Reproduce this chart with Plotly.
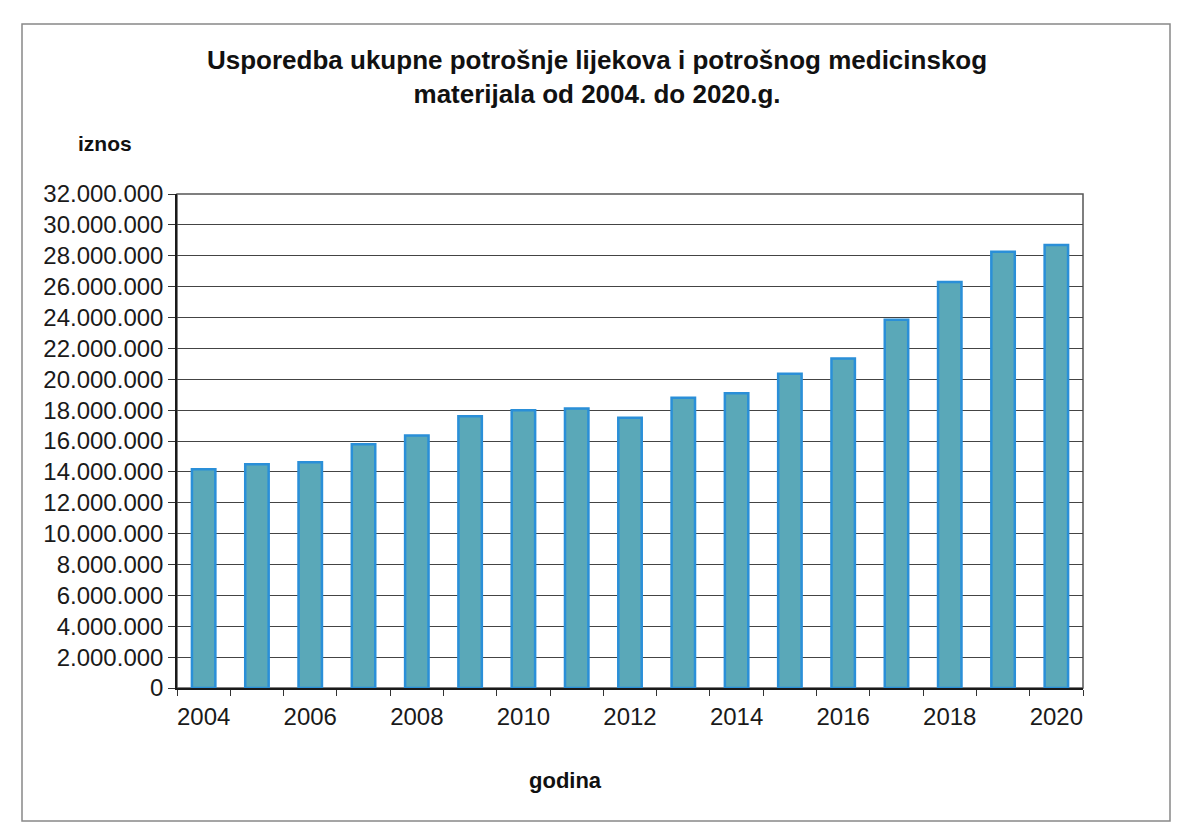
import plotly.graph_objects as go

years = list(range(2004, 2021))
values = [14170000, 14500000, 14620000, 15790000, 16360000, 17600000, 17990000,
          18100000, 17500000, 18800000, 19100000, 20360000, 21340000, 23850000,
          26300000, 28260000, 28700000]
xtick_years = [2004, 2006, 2008, 2010, 2012, 2014, 2016, 2018, 2020]

title_text = "Usporedba ukupne potrošnje lijekova i potrošnog medicinskog<br>materijala od 2004. do 2020.g."
y_title = "iznos"
x_title = "godina"

OFF = 8  # browser body margin
W, H = 1180 - 2 * OFF, 831 - 2 * OFF
# plot area in page pixels
L, R, T, B = 177 - OFF, 1083 - OFF, 194 - OFF, 688 - OFF
pw, ph = R - L, B - T

def px(x):
    return (x - OFF - L) / pw

def py(y):
    return (B - (y - OFF)) / ph

fig = go.Figure()
fig.add_trace(go.Bar(
    x=years, y=values,
    marker=dict(color="#5aa8b8", line=dict(color="#2a8fd8", width=2.5)),
    width=0.44,
))

font_main = "Liberation Sans, Arial, sans-serif"

fig.update_layout(
    width=W, height=H,
    margin=dict(l=L, r=W - R, t=T, b=H - B),
    paper_bgcolor="white", plot_bgcolor="white",
    separators=",.",
    showlegend=False,
    font=dict(family=font_main, color="#1a1a1a"),
    xaxis=dict(
        range=[2003.5, 2020.5],
        tickvals=xtick_years,
        ticktext=[str(v) for v in xtick_years],
        ticks="",
        showgrid=False,
        showline=True, linecolor="#1a1a1a", linewidth=2,
        tickfont=dict(size=24, family=font_main),
        ticklabelstandoff=6,
        minor=dict(tick0=2003.5, dtick=1, ticks="outside", ticklen=6,
                   tickcolor="#333", showgrid=False),
        zeroline=False,
    ),
    yaxis=dict(
        range=[0, 32000000],
        dtick=2000000,
        tickformat=",d",
        ticks="outside", ticklen=7, tickcolor="#333",
        showgrid=True, gridcolor="#444", gridwidth=1,
        showline=True, linecolor="#1a1a1a", linewidth=1.5,
        tickfont=dict(size=24, family=font_main),
        zeroline=False,
    ),
    shapes=[
        dict(type="rect", xref="paper", yref="paper", x0=0, x1=1, y0=0, y1=1,
             line=dict(color="#555", width=1.5), layer="below"),
        dict(type="rect", xref="paper", yref="paper",
             x0=px(22), x1=px(1170), y0=py(821), y1=py(24),
             line=dict(color="#888", width=1.5)),
    ],
    annotations=[
        dict(text="<b>" + title_text + "</b>", xref="paper", yref="paper",
             x=px(597), y=py(77), xanchor="center", yanchor="middle",
             showarrow=False, font=dict(size=26, family=font_main, color="#111")),
        dict(text="<b>" + y_title + "</b>", xref="paper", yref="paper",
             x=px(105), y=py(143), xanchor="center", yanchor="middle",
             showarrow=False, font=dict(size=21, family=font_main, color="#111")),
        dict(text="<b>" + x_title + "</b>", xref="paper", yref="paper",
             x=px(565), y=py(780), xanchor="center", yanchor="middle",
             showarrow=False, font=dict(size=22, family=font_main, color="#111")),
    ],
)

fig.write_html("out.html")
